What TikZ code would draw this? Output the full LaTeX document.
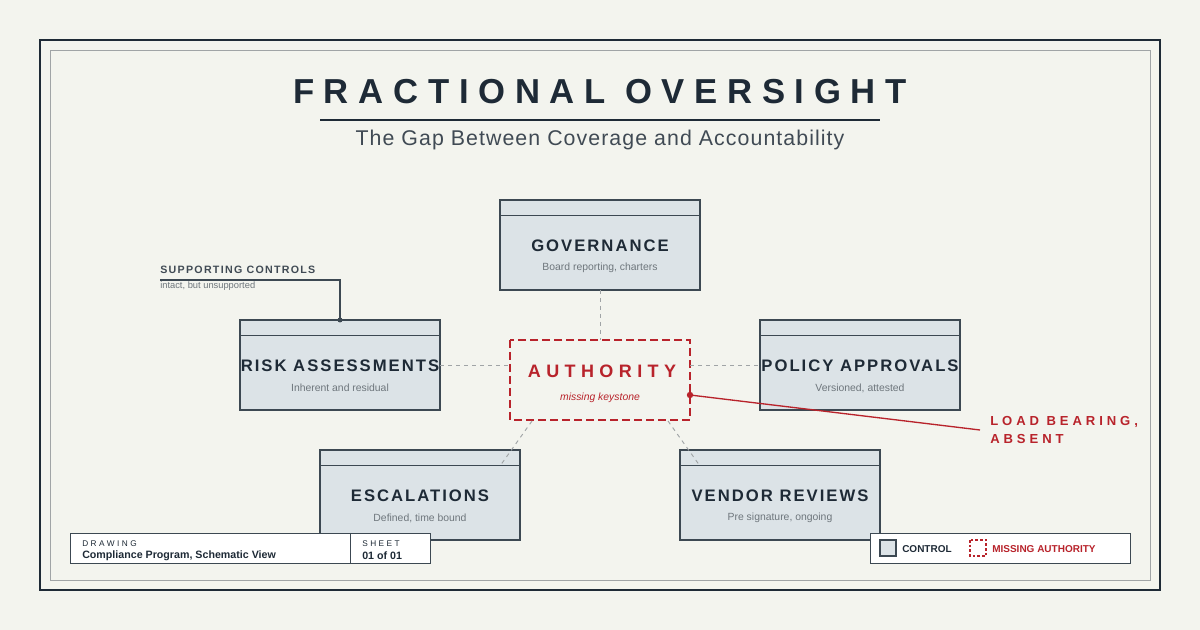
\documentclass[tikz,border=0pt]{standalone}
\usepackage{fontspec}
\setmainfont{Liberation Sans}
\newfontfamily\wideA[LetterSpace=28]{Liberation Sans}
\newfontfamily\wideB[LetterSpace=12]{Liberation Sans}
\newfontfamily\wideC[LetterSpace=30]{Liberation Sans}
\newfontfamily\wideD[LetterSpace=5]{Liberation Sans}
\usetikzlibrary{positioning}
\definecolor{bg}{HTML}{F3F4EE}
\definecolor{ink}{HTML}{1E2A36}
\definecolor{boxfill}{HTML}{DCE3E7}
\definecolor{boxline}{HTML}{3C4852}
\definecolor{sub}{HTML}{6E767C}
\definecolor{red}{HTML}{B8232B}
\definecolor{conn}{HTML}{A0A4A6}
\tikzset{
  ctrl/.style={draw=boxline, line width=1.5pt, fill=boxfill},
  ttl/.style={font=\wideB\bfseries\fontsize{12.5}{14}\selectfont, text=ink, inner sep=0},
  subt/.style={font=\fontsize{7.8}{9}\selectfont, text=sub, inner sep=0},
  link/.style={draw=conn, dashed, line width=0.7pt},
}
\begin{document}
\begin{tikzpicture}[x=0.75pt,y=-0.75pt]
\fill[bg] (0,0) rectangle (1200,630);
\useasboundingbox (0,0) rectangle (1200,630);
\draw[ink, line width=1.6pt] (40,40) rectangle (1160,590);
\draw[conn, line width=0.6pt] (50,50) rectangle (1150,580);
% title
\node[font=\wideA\bfseries\fontsize{26}{30}\selectfont, text=ink, inner sep=0] (title) at (600,92) {FRACTIONAL OVERSIGHT};
\draw[ink, line width=0.8pt] (320,120) -- (880,120);
\node[font=\wideD\fontsize{16}{18}\selectfont, text=ink!85, inner sep=0] (subtitle) at (600,140) {The Gap Between Coverage and Accountability};
% boxes
\foreach \n/\x/\y/\t/\s in {gov/500/200/GOVERNANCE/{Board reporting, charters},
  risk/240/320/RISK ASSESSMENTS/{Inherent and residual},
  pol/760/320/POLICY APPROVALS/{Versioned, attested},
  esc/320/450/ESCALATIONS/{Defined, time bound},
  ven/680/450/VENDOR REVIEWS/{Pre signature, ongoing}}{
  \draw[ctrl] (\x,\y) rectangle ++(200,90);
  \draw[boxline, line width=0.6pt] (\x,\y+15) -- ++(200,0);
  \node[ttl] (\n) at (\x+100,\y+46) {\t};
  \node[subt] (\n s) at (\x+100,\y+68) {\s};
  \coordinate (\n T) at (\x+100,\y);
  \coordinate (\n B) at (\x+100,\y+90);
  \coordinate (\n L) at (\x,\y+45);
  \coordinate (\n R) at (\x+200,\y+45);
}
% authority
\draw[red, dashed, dash pattern=on 6pt off 3pt, line width=1.5pt] (510,340) rectangle (690,420);
\node[font=\wideC\bfseries\fontsize{13.5}{15}\selectfont, text=red, inner sep=0] (auth) at (602,371) {AUTHORITY};
\node[font=\itshape\fontsize{7.8}{9}\selectfont, text=red, inner sep=0] (auths) at (600,398) {missing keystone};
\coordinate (aT) at (600,340);
\coordinate (aL) at (510,365);
\coordinate (aR) at (690,365);
\coordinate (aBL) at (532,421);
\coordinate (aBR) at (668,421);
\coordinate (escE) at (500,466);
\coordinate (venE) at (700,466);
\draw[link] (govB) -- (aT);
\draw[link] (riskR) -- (aL);
\draw[link] (aR) -- (polL);
\draw[link] (aBL) -- (escE);
\draw[link] (aBR) -- (venE);
% load bearing
\coordinate (dot) at (690,395);
\coordinate (lb) at (980,430);
\draw[red, line width=1pt] (dot) -- (lb);
\fill[red] (dot) circle (3.2);
\node[font=\wideC\bfseries\fontsize{9.8}{13.5}\selectfont, text=red, inner sep=0, anchor=north west, align=left] (lbl) at (990,416) {LOAD BEARING,\\ABSENT};
% supporting controls
\node[font=\wideB\bfseries\fontsize{8}{9}\selectfont, text=ink!85, inner sep=0, anchor=west] (sc) at (160,270) {SUPPORTING CONTROLS};
\node[font=\fontsize{7}{8}\selectfont, text=sub, inner sep=0, anchor=west] (scs) at (160,286) {intact, but unsupported};
\coordinate (scA) at (160,280);
\coordinate (riskT2) at (340,320);
\draw[boxline, line width=0.8pt] (scA) -| (riskT2);
\fill[boxline] (riskT2) circle (2.5);
% title block
\draw[boxline, fill=white, line width=0.7pt] (70,533) rectangle (430,563);
\draw[boxline, line width=0.7pt] (350,533) -- (350,563);
\node[font=\wideC\fontsize{6.2}{7}\selectfont, text=ink, inner sep=0, anchor=west] (dr) at (82,544) {DRAWING};
\node[font=\bfseries\fontsize{8}{9}\selectfont, text=ink, inner sep=0, anchor=west] (drv) at (82,555.5) {Compliance Program, Schematic View};
\node[font=\wideC\fontsize{6.2}{7}\selectfont, text=ink, inner sep=0, anchor=west] (sh) at (362,544) {SHEET};
\node[font=\bfseries\fontsize{8}{9}\selectfont, text=ink, inner sep=0, anchor=west] (shv) at (362,555.5) {01 of 01};
% legend
\draw[boxline, fill=white, line width=0.7pt] (870,533) rectangle (1130,563);
\draw[ctrl, line width=0.8pt] (880,540) rectangle (896,556);
\node[font=\bfseries\fontsize{7.5}{9}\selectfont, text=ink, inner sep=0, anchor=west] (lc) at (902,549) {CONTROL};
\draw[red, dashed, dash pattern=on 2pt off 1.5pt, line width=1pt] (970,540) rectangle (986,556);
\node[font=\bfseries\fontsize{7.5}{9}\selectfont, text=red, inner sep=0, anchor=west] (lm) at (992,549) {MISSING AUTHORITY};
\end{tikzpicture}
\end{document}
